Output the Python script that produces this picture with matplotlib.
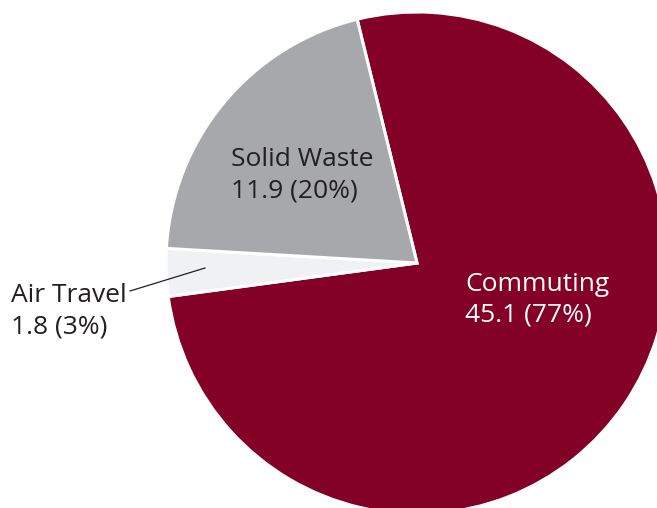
import matplotlib.pyplot as plt

labels = ['Commuting', 'Air Travel', 'Solid Waste']
values = [45.1, 1.8, 11.9]
percents = [77, 3, 20]
colors = ['#830027', '#f0f1f3', '#a7a8ab']

plt.rcParams['font.family'] = ['Open Sans', 'DejaVu Sans']

fig = plt.figure(figsize=(6.57, 5.08), dpi=100)
ax = fig.add_axes([0, 0, 1, 1])

# pixel-like data units, pie centre at the origin
cx, cy, r = 417, 263, 251
ax.pie(values, colors=colors, radius=r, center=(0, 0), startangle=103.8,
       counterclock=False, wedgeprops=dict(edgecolor='white', linewidth=2.2))
ax.set_xlim(-cx, 657 - cx)
ax.set_ylim(cy - 508, cy)
ax.set_aspect('equal')
ax.axis('off')


def px(x, y):
    return x - cx, cy - y


def label(i):
    return f'{labels[i]}\n{values[i]} ({percents[i]}%)'


fs = 19
ax.text(*px(465, 322), label(0), color='white', fontsize=fs, ha='left',
        va='baseline', linespacing=1.3)
ax.text(*px(231, 197), label(2), color='#231f20', fontsize=fs, ha='left',
        va='baseline', linespacing=1.3)
ax.text(*px(11, 333), label(1), color='#231f20', fontsize=fs, ha='left',
        va='baseline', linespacing=1.3)

# leader line for the small wedge
x0, y0 = px(130, 291)
x1, y1 = px(205, 268)
ax.plot([x0, x1], [y0, y1], color='#231f20', lw=0.9)

fig.savefig('out.png', dpi=100)
